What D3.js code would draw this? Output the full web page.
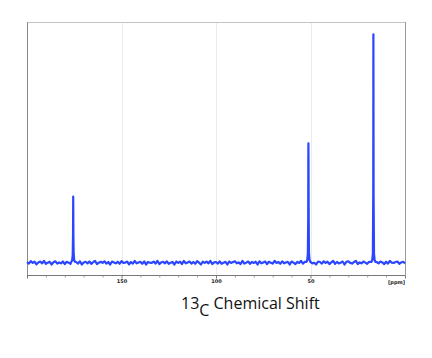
<!DOCTYPE html>
<html><head><meta charset="utf-8">
<script src="https://cdn.jsdelivr.net/npm/d3@7"></script>
<style>body{margin:0;background:#fff}svg{display:block}</style>
</head><body>
<script>
// ---- data ----
const ppmDomain = [200, 0];
const majorTicks = [150, 100, 50];
const minorTicks = [190,180,170,160,140,130,120,110,90,80,70,60,40,30,20,10];
const axisUnit = "[ppm]";
// baseline noise, sampled evenly from 200 ppm down to 0 ppm
const baselineNoise = [
0.3,-0.4,0.7,-0.1,0.4,-0.7,0.1,0.5,-0.3,0.8,-0.5,0.0,0.4,-0.8,0.2,0.6,-0.4,0.1,-0.3,0.5,
-0.6,0.4,0.0,-0.5,0.8,-0.1,0.3,-0.4,0.6,-0.8,0.1,0.4,-0.3,0.5,-0.5,0.2,0.8,-0.6,0.0,0.4,
-0.1,0.6,-0.4,0.3,-0.8,0.5,0.1,-0.3,0.4,-0.5,0.7,-0.1,0.0,0.5,-0.7,0.3,-0.4,0.8,-0.3,0.1,
0.4,-0.5,0.6,-0.8,0.3,0.0,-0.1,0.5,-0.4,0.8,-0.6,0.1,0.4,-0.3,0.6,-0.5,0.0,0.3,-0.8,0.5,
-0.1,0.4,-0.6,0.8,-0.3,0.1,0.5,-0.4,0.3,-0.5,0.7,0.0,-0.8,0.4,-0.1,0.5,-0.3,0.8,-0.6,0.1,
0.3,-0.4,0.6,-0.5,0.0,0.4,-0.8,0.5,-0.1,0.3,0.6,-0.3,0.1,-0.6,0.8,-0.4,0.0,0.5,-0.5,0.3,
-0.1,0.4,-0.8,0.6,-0.3,0.1,0.5,-0.6,0.4,0.0,-0.4,0.8,-0.1,0.3,-0.5,0.6,-0.3,0.1,0.4,-0.8,
0.5,0.0,-0.6,0.3,-0.1,0.8,-0.4,0.4,-0.5,0.1,0.6,-0.3,0.0,-0.8,0.5,0.3,-0.4,0.6,-0.1,0.4,
-0.6,0.1,0.8,-0.5,0.3,-0.3,0.0,0.5,-0.8,0.4,0.6,-0.1,-0.4,0.3,0.8,-0.6,0.1,-0.3,0.5,0.0,
-0.5,0.4,-0.1,0.6,-0.8,0.3,-0.3,0.5,0.1,-0.6,0.4,-0.4,0.8,0.0,-0.1,0.3,0.5,-0.5,0.1,0.4,
-0.3
];
// peak profiles: [ppm, intensity]
const peakCarbonyl = [[176.6,0.3],[176.1,1.0],[175.8,3.5],[175.65,12],[175.55,28.9],[175.45,12],[175.3,3.5],[175.0,1.0],[174.5,0.3]];
const peakAlpha = [[52.2,0.3],[51.7,1.2],[51.4,4],[51.2,20],[51.15,45],[51.1,52.3],[51.05,46],[50.95,20],[50.8,4],[50.5,1.2],[50.0,0.3]];
const peakMethyl = [[17.8,0.3],[17.3,1.2],[17.0,4],[16.8,30],[16.72,100],[16.62,30],[16.4,4],[16.1,1.2],[15.6,0.3]];
const peakCenters = [175.55, 51.1, 16.72];
const intensityDomain = [-5.4, 105.2];

// ---- drawing ----
const W = 432, H = 358;
const svg = d3.select("body").append("svg").attr("width", W).attr("height", H);
const x = d3.scaleLinear().domain(ppmDomain).range([27, 405]);
const y = d3.scaleLinear().domain(intensityDomain).range([275, 22.5]);

// grid lines
svg.append("g").selectAll("line").data(majorTicks).join("line")
  .attr("x1", d => Math.round(x(d)) + 0.5).attr("x2", d => Math.round(x(d)) + 0.5)
  .attr("y1", 22.5).attr("y2", 275)
  .attr("stroke", "#ebebeb").attr("stroke-width", 1);

// frame
svg.append("line").attr("x1", 27).attr("x2", 405.5).attr("y1", 22.5).attr("y2", 22.5)
  .attr("stroke", "#c4c4c4").attr("stroke-width", 1);
svg.append("line").attr("x1", 27.5).attr("x2", 27.5).attr("y1", 22).attr("y2", 275)
  .attr("stroke", "#8a8a8a").attr("stroke-width", 1);
svg.append("line").attr("x1", 405.5).attr("x2", 405.5).attr("y1", 22).attr("y2", 275)
  .attr("stroke", "#9a9a9a").attr("stroke-width", 1);

// spectrum
const step = (ppmDomain[0] - ppmDomain[1]) / (baselineNoise.length - 1);
const basePts = baselineNoise.map((v, i) => [ppmDomain[0] - i * step, v])
  .filter(p => peakCenters.every(c => Math.abs(p[0] - c) > 1.3));
const spectrum = basePts.concat(peakCarbonyl, peakAlpha, peakMethyl)
  .sort((a, b) => b[0] - a[0]);
svg.append("path").datum(spectrum)
  .attr("d", d3.line().x(d => x(d[0])).y(d => y(d[1])))
  .attr("fill", "none").attr("stroke", "#2b46ff").attr("stroke-width", 2.2)
  .attr("stroke-linejoin", "round");

// x axis
const axis = d3.axisBottom(x).tickValues(majorTicks.concat([200, 0]))
  .tickSize(3).tickFormat(d => majorTicks.includes(d) ? d : "");
const gA = svg.append("g").attr("transform", "translate(0,275.5)").call(axis);
gA.select(".domain").attr("stroke", "#777").attr("d", "M27,0H405.5");
gA.selectAll(".tick line").attr("stroke", "#777");
gA.selectAll(".tick text").attr("font-family", "DejaVu Sans").attr("font-size", 5)
  .attr("font-weight", "bold").attr("fill", "#222").attr("dy", "0.3em").attr("y", 5.5);
const minorAxis = d3.axisBottom(x).tickValues(minorTicks).tickSize(2).tickFormat("");
const gM = svg.append("g").attr("transform", "translate(0,275.5)").call(minorAxis);
gM.select(".domain").remove();
gM.selectAll(".tick line").attr("stroke", "#999");

svg.append("text").attr("x", 405).attr("y", 284).attr("text-anchor", "end")
  .attr("font-family", "DejaVu Sans").attr("font-size", 5).attr("font-weight", "bold")
  .attr("fill", "#222").text(axisUnit);

// title
const t = svg.append("text").attr("x", 181).attr("y", 309)
  .attr("font-family", "Open Sans").attr("font-size", 16).attr("fill", "#111");
t.append("tspan").text("13");
t.append("tspan").attr("dy", 7).text("C");
t.append("tspan").attr("dy", -7).text(" Chemical Shift");
</script>
</body></html>
